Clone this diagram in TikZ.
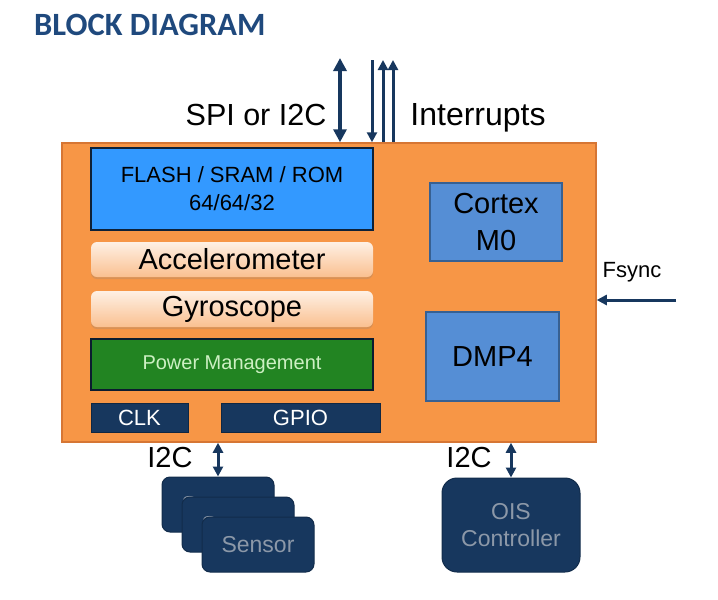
\documentclass[tikz,border=0pt]{standalone}
\usepackage{fontspec}
\setmainfont{Liberation Sans}
\newfontfamily\titlefont{Carlito}
\usetikzlibrary{arrows.meta,positioning,shadows}

\definecolor{titleblue}{RGB}{31,73,125}
\definecolor{navy}{RGB}{23,55,94}
\definecolor{chiporange}{RGB}{247,150,70}
\definecolor{chipedge}{RGB}{214,118,52}
\definecolor{memblue}{RGB}{51,153,255}
\definecolor{coreblue}{RGB}{85,142,213}
\definecolor{coreedge}{RGB}{55,96,146}
\definecolor{pmgreen}{RGB}{34,132,34}
\definecolor{pmtext}{RGB}{205,240,195}
\definecolor{peachtop}{RGB}{254,240,228}
\definecolor{peachbot}{RGB}{250,192,144}
\definecolor{greytext}{RGB}{140,152,168}

\newcommand\pxsize[2]{\fontsize{#1}{#2}\selectfont}

\begin{document}
\begin{tikzpicture}[x=1pt,y=-1pt,
	box/.style={inner sep=0pt,align=center},
	chip/.style={box,draw=chipedge,fill=chiporange,line width=1.5pt},
	mem/.style={box,draw=navy!60!black,fill=memblue,line width=2pt,font=\pxsize{22}{28}},
	sense/.style={box,rounded corners=6pt,top color=peachtop,bottom color=peachbot,
		drop shadow={opacity=0.25,shadow xshift=0pt,shadow yshift=-2pt},font=\pxsize{29}{33}},
	pm/.style={box,draw=navy!50!black,fill=pmgreen,line width=2pt,text=pmtext,font=\pxsize{20}{24}},
	pin/.style={box,draw=navy!70!black,fill=navy,line width=1pt,text=white,font=\pxsize{22}{26}},
	core/.style={box,draw=coreedge,fill=coreblue,line width=1.5pt,font=\pxsize{29}{37}},
	ext/.style={box,draw=navy!80!black,fill=navy,line width=1pt,text=greytext,font=\pxsize{23}{27}},
	lbl/.style={inner sep=0pt,font=\pxsize{30.5}{34}},
	bigtip/.tip={Triangle[length=13pt,width=13pt]},
	tip/.tip={Triangle[length=10pt,width=10pt]},
	bus/.style={navy,line width=4pt},
	thinbus/.style={navy,line width=3pt}]
	\useasboundingbox (0,0) rectangle (718,600);

	% title
	\node[anchor=west,inner sep=0pt,text=titleblue,font=\titlefont\bfseries\pxsize{32.5}{36}] (title) at (34,25) {BLOCK DIAGRAM};

	% chip and its blocks
	\node[chip,minimum width=534,minimum height=299] (chip) at (329,292.5) {};
	\node[mem,minimum width=282,minimum height=82] (mem) at (232,189) {FLASH / SRAM / ROM\\64/64/32};
	\node[sense,minimum width=282,minimum height=35] (accel) at (232,259.5) {Accelerometer};
	\node[sense,minimum width=282,minimum height=36] (gyro) at (232,309) {Gyroscope};
	\node[pm,minimum width=282,minimum height=51] (power) at (232,364.5) {Power Management};
	\node[pin,minimum width=97,minimum height=29] (clk) at (139.5,417.5) {CLK};
	\node[pin,minimum width=159,minimum height=29] (gpio) at (300.5,417.5) {GPIO};
	\node[core,minimum width=132,minimum height=78] (cortex) at (496,222) {Cortex\\M0};
	\node[core,minimum width=133,minimum height=89] (dmp) at (492.5,356.5) {DMP4};

	% outside parts
	\foreach \i/\x/\y in {1/218/504.5, 2/238/524.5, 3/258/544.5}
		\node[ext,rounded corners=8pt,minimum width=112,minimum height=55] (sensor\i) at (\x,\y) {Sensor};
	\node[ext,rounded corners=15pt,minimum width=138,minimum height=94] (ois) at (511,525) {OIS\\Controller};

	% top buses
	\coordinate (spi) at (340,58);
	\coordinate (intA) at (372,60);
	\coordinate (intB) at (383,60);
	\coordinate (intC) at (393,60);
	\draw[bus,bigtip-bigtip] (spi) -- (spi |- chip.north);
	\draw[thinbus,-tip] (intA) -- (intA |- chip.north);
	\draw[thinbus,tip-] (intB) -- (intB |- chip.north);
	\draw[thinbus,tip-] (intC) -- (intC |- chip.north);
	\node[lbl] (spilabel) at (256,115) {SPI or I2C};
	\node[lbl,font=\pxsize{32}{36}] (intlabel) at (478,118) {Interrupts};

	% frame sync
	\coordinate (fsync) at (676,300);
	\draw[thinbus,-tip] (fsync) -- (fsync -| chip.east);
	\node[lbl,font=\pxsize{22}{26}] (fslabel) at (632,272) {Fsync};

	% I2C to sensors and OIS
	\draw[thinbus,tip-tip] (sensor1.north) -- (sensor1.north |- chip.south);
	\draw[thinbus,tip-tip] (ois.north) -- (ois.north |- chip.south);
	\node[lbl,font=\pxsize{29}{33}] (i2cA) at (170,458) {I2C};
	\node[lbl,font=\pxsize{29}{33}] (i2cB) at (469,458) {I2C};
\end{tikzpicture}
\end{document}
